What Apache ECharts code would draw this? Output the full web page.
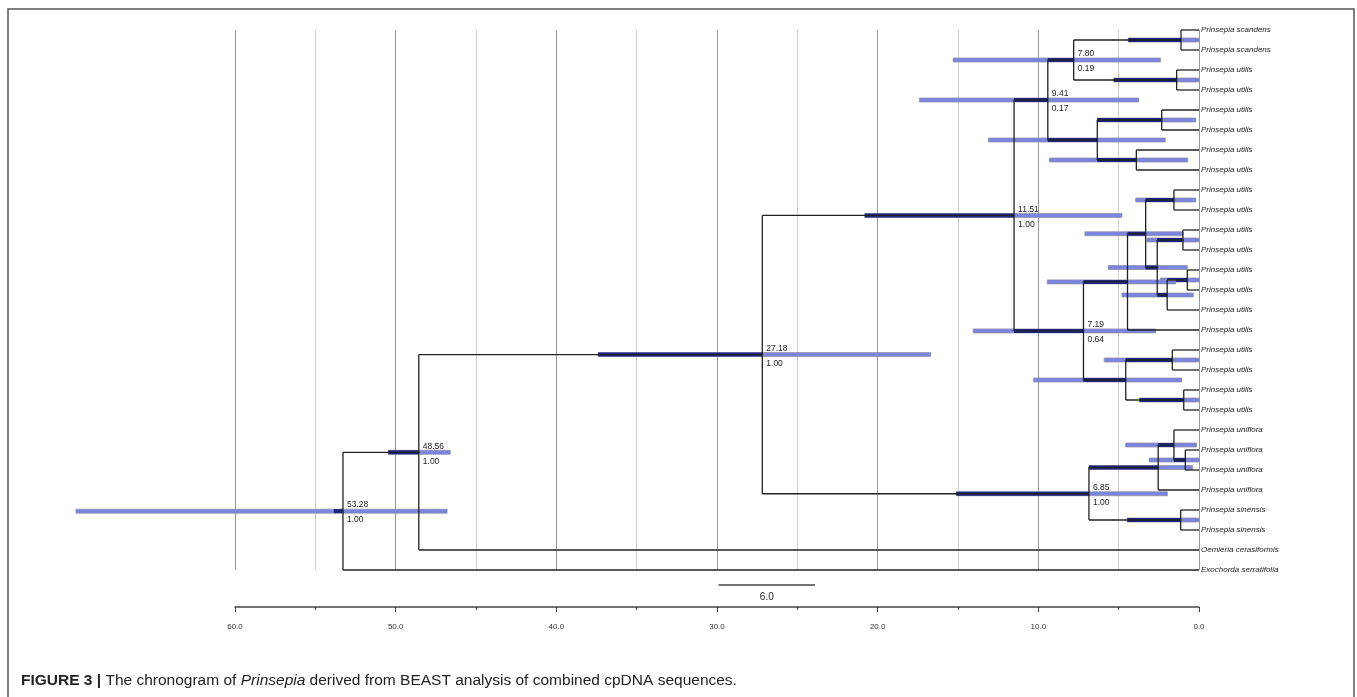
<!DOCTYPE html>
<html lang="en">
<head>
    <meta charset="UTF-8">
    <title>Prinsepia chronogram</title>
    <style>
        html, body { margin: 0; padding: 0; background: #fff; }
        .div { width: 1357px; height: 697px; }
    </style>
</head>
<body>
    <div class="div"></div>
    <script src="https://cdn.jsdelivr.net/npm/echarts@6/dist/echarts.min.js"></script>
    <script>
        // tips, top to bottom
        var leafNames = [
            'Prinsepia scandens', 'Prinsepia scandens',
            'Prinsepia utilis', 'Prinsepia utilis', 'Prinsepia utilis', 'Prinsepia utilis',
            'Prinsepia utilis', 'Prinsepia utilis', 'Prinsepia utilis', 'Prinsepia utilis',
            'Prinsepia utilis', 'Prinsepia utilis', 'Prinsepia utilis', 'Prinsepia utilis',
            'Prinsepia utilis', 'Prinsepia utilis', 'Prinsepia utilis', 'Prinsepia utilis',
            'Prinsepia utilis', 'Prinsepia utilis',
            'Prinsepia uniflora', 'Prinsepia uniflora', 'Prinsepia uniflora', 'Prinsepia uniflora',
            'Prinsepia sinensis', 'Prinsepia sinensis',
            'Oemleria cerasiformis', 'Exochorda serratifolia'
        ];
        // internal nodes: children (L = tip, N = node)
        var nodeKids = [
            ['L0', 'L1'], ['L2', 'L3'], ['N0', 'N1'], ['L4', 'L5'], ['L6', 'L7'], ['N3', 'N4'], ['N2', 'N5'],
            ['L8', 'L9'], ['L10', 'L11'], ['L12', 'L13'], ['N9', 'L14'], ['N8', 'N10'], ['N7', 'N11'], ['N12', 'L15'],
            ['L16', 'L17'], ['L18', 'L19'], ['N14', 'N15'], ['N13', 'N16'], ['N6', 'N17'],
            ['L21', 'L22'], ['L20', 'N19'], ['N20', 'L23'], ['L24', 'L25'], ['N21', 'N22'],
            ['N18', 'N23'], ['N24', 'L26'], ['N25', 'L27']
        ];
        // node ages (Ma) and 95% HPD
        var nodeAge = [1.12, 1.39, 7.80, 2.32, 3.90, 6.33, 9.41,
            1.56, 1.00, 0.73, 1.98, 2.60, 3.32, 4.45,
            1.66, 0.95, 4.56, 7.19, 11.51,
            0.85, 1.56, 2.54, 1.14, 6.85, 27.18, 48.56, 53.28];
        var hpdLow = [0.0, 0.0, 2.4, 0.2, 0.7, 2.1, 3.75,
            0.2, 0.0, 0.0, 0.35, 0.73, 1.0, 1.45,
            0.0, 0.0, 1.08, 2.7, 4.8,
            0.0, 0.15, 0.4, 0.0, 1.97, 16.7, 46.6, 46.8];
        var hpdHigh = [4.4, 5.3, 15.3, 6.33, 9.3, 13.1, 17.4,
            3.94, 3.24, 2.4, 4.8, 5.65, 7.1, 9.45,
            5.9, 3.7, 10.3, 14.05, 20.8,
            3.1, 4.57, 6.85, 4.46, 15.1, 37.4, 50.46, 69.9];
        // labelled nodes: index, age text, posterior
        var labelNodes = [2, 6, 17, 18, 23, 24, 25, 26];
        var labelAge = ['7.80', '9.41', '7.19', '11.51', '6.85', '27.18', '48.56', '53.28'];
        var labelPost = ['0.19', '0.17', '0.64', '1.00', '1.00', '1.00', '1.00', '1.00'];
        var rootStub = 53.85;
        var scaleBar = [29.9, 23.9];
        var axisTicks = [0, 10, 20, 30, 40, 50, 60];

        // layout
        var nodeY = [], parentAge = {};
        function yOf(id) {
            var i = +id.slice(1);
            if (id[0] === 'L') return i;
            if (nodeY[i] === undefined) {
                nodeY[i] = (yOf(nodeKids[i][0]) + yOf(nodeKids[i][1])) / 2;
            }
            return nodeY[i];
        }
        nodeKids.forEach(function (k, i) {
            parentAge[k[0]] = nodeAge[i];
            parentAge[k[1]] = nodeAge[i];
        });
        var root = nodeKids.length - 1;
        parentAge['N' + root] = rootStub;
        yOf('N' + root);

        var barData = [], segData = [], labData = [], tipData = [];
        nodeKids.forEach(function (k, i) {
            var y = nodeY[i], pa = parentAge['N' + i];
            var dlo = Math.max(nodeAge[i], hpdLow[i]);
            var dhi = Math.min(pa, hpdHigh[i]);
            barData.push([hpdLow[i], hpdHigh[i], y, dlo, dhi]);
            if (i !== root) segData.push([pa, y, nodeAge[i], y]);
            segData.push([nodeAge[i], yOf(k[0]), nodeAge[i], yOf(k[1])]);
        });
        leafNames.forEach(function (n, i) {
            segData.push([parentAge['L' + i], i, 0, i]);
            tipData.push([0, i]);
        });
        labelNodes.forEach(function (n) {
            labData.push([nodeAge[n], nodeY[n]]);
        });

        var myecharts = echarts.init(document.getElementsByClassName('div')[0]);
        var option = {
            animation: false,
            grid: { left: 235, right: 158, top: 30, height: 540 },
            xAxis: {
                type: 'value',
                min: 0,
                max: 60,
                interval: 10,
                inverse: true,
                position: 'bottom',
                offset: 37,
                axisLine: { onZero: false, lineStyle: { color: '#444', width: 1.5 } },
                axisTick: { length: 5, lineStyle: { color: '#444' } },
                minorTick: { show: true, splitNumber: 2, length: 3, lineStyle: { color: '#444' } },
                axisLabel: {
                    fontSize: 8, color: '#333', margin: 16, fontFamily: 'Liberation Sans',
                    formatter: function (v) { return axisTicks.indexOf(v) > -1 ? v.toFixed(1) : ''; }
                },
                splitLine: { show: true, lineStyle: { color: '#999', width: 1 } },
                minorSplitLine: { show: true, lineStyle: { color: '#cfcfcf', width: 1 } }
            },
            yAxis: { type: 'value', min: 0, max: 27, inverse: true, show: false },
            series: [
                {
                    // HPD bars, dark where the branch runs through them
                    type: 'custom',
                    z: 3,
                    data: barData,
                    encode: { x: [0, 1], y: 2 },
                    renderItem: function (params, api) {
                        var y = api.value(2);
                        var a = api.coord([api.value(0), y]);
                        var b = api.coord([api.value(1), y]);
                        var kids = [{
                            type: 'rect',
                            shape: { x: Math.min(a[0], b[0]), y: a[1] - 2, width: Math.abs(b[0] - a[0]), height: 4 },
                            style: { fill: '#7c84e2', stroke: '#8a8a9c', lineWidth: 0.7 }
                        }];
                        if (api.value(4) > api.value(3)) {
                            var c = api.coord([api.value(3), y]);
                            var d = api.coord([api.value(4), y]);
                            kids.push({
                                type: 'rect',
                                shape: { x: Math.min(c[0], d[0]), y: c[1] - 2, width: Math.abs(d[0] - c[0]), height: 4 },
                                style: { fill: '#1e2580' }
                            });
                        }
                        return { type: 'group', children: kids };
                    }
                },
                {
                    // tree branches
                    type: 'custom',
                    z: 4,
                    data: segData,
                    encode: { x: [0, 2], y: [1, 3] },
                    renderItem: function (params, api) {
                        var a = api.coord([api.value(0), api.value(1)]);
                        var b = api.coord([api.value(2), api.value(3)]);
                        return {
                            type: 'line',
                            shape: { x1: a[0], y1: a[1], x2: b[0], y2: b[1] },
                            style: { stroke: '#222', lineWidth: 1.3 }
                        };
                    }
                },
                {
                    // node age / posterior labels
                    type: 'custom',
                    z: 5,
                    data: labData,
                    encode: { x: 0, y: 1 },
                    renderItem: function (params, api) {
                        var p = api.coord([api.value(0), api.value(1)]);
                        var j = params.dataIndex;
                        var st = { fontSize: 8.5, fill: '#222', fontFamily: 'Liberation Sans', align: 'left', verticalAlign: 'middle' };
                        return {
                            type: 'group',
                            children: [
                                { type: 'text', x: p[0] + 4, y: p[1] - 6, style: Object.assign({ text: labelAge[j] }, st) },
                                { type: 'text', x: p[0] + 4, y: p[1] + 9, style: Object.assign({ text: labelPost[j] }, st) }
                            ]
                        };
                    }
                },
                {
                    // tip names
                    type: 'custom',
                    z: 5,
                    data: tipData,
                    encode: { x: 0, y: 1 },
                    renderItem: function (params, api) {
                        var p = api.coord([api.value(0), api.value(1)]);
                        return {
                            type: 'text', x: p[0] + 2, y: p[1],
                            style: {
                                text: leafNames[params.dataIndex], fontSize: 8, fontStyle: 'italic',
                                fontFamily: 'Liberation Sans', fill: '#222', verticalAlign: 'middle'
                            }
                        };
                    }
                },
                {
                    // scale bar
                    type: 'custom',
                    z: 5,
                    data: [[scaleBar[0], scaleBar[1], 27.75]],
                    encode: { x: [0, 1], y: 2 },
                    renderItem: function (params, api) {
                        var a = api.coord([api.value(0), api.value(2)]);
                        var b = api.coord([api.value(1), api.value(2)]);
                        return {
                            type: 'group',
                            children: [
                                { type: 'line', shape: { x1: a[0], y1: a[1], x2: b[0], y2: b[1] }, style: { stroke: '#444', lineWidth: 1.3 } },
                                {
                                    type: 'text', x: (a[0] + b[0]) / 2, y: a[1] + 12,
                                    style: {
                                        text: (scaleBar[0] - scaleBar[1]).toFixed(1), fontSize: 10, fill: '#222',
                                        fontFamily: 'Liberation Sans', align: 'center', verticalAlign: 'middle'
                                    }
                                }
                            ]
                        };
                    }
                }
            ],
            graphic: [
                {
                    type: 'rect',
                    shape: { x: 8, y: 9, width: 1346, height: 720 },
                    style: { fill: 'none', stroke: '#555', lineWidth: 1.5 }
                },
                {
                    type: 'text',
                    left: 21,
                    top: 673,
                    style: {
                        text: '{b|FIGURE 3 |} The chronogram of {i|Prinsepia} derived from BEAST analysis of combined cpDNA sequences.',
                        fontSize: 15.5,
                        fontFamily: 'Liberation Sans',
                        fill: '#222',
                        rich: {
                            b: { fontSize: 15.5, fontWeight: 'bold', fontFamily: 'Liberation Sans', fill: '#222' },
                            i: { fontSize: 15.5, fontStyle: 'italic', fontFamily: 'Liberation Sans', fill: '#222' }
                        }
                    }
                }
            ]
        };
        myecharts.setOption(option);
        window.onresize = myecharts.resize;
    </script>
</body>
</html>
